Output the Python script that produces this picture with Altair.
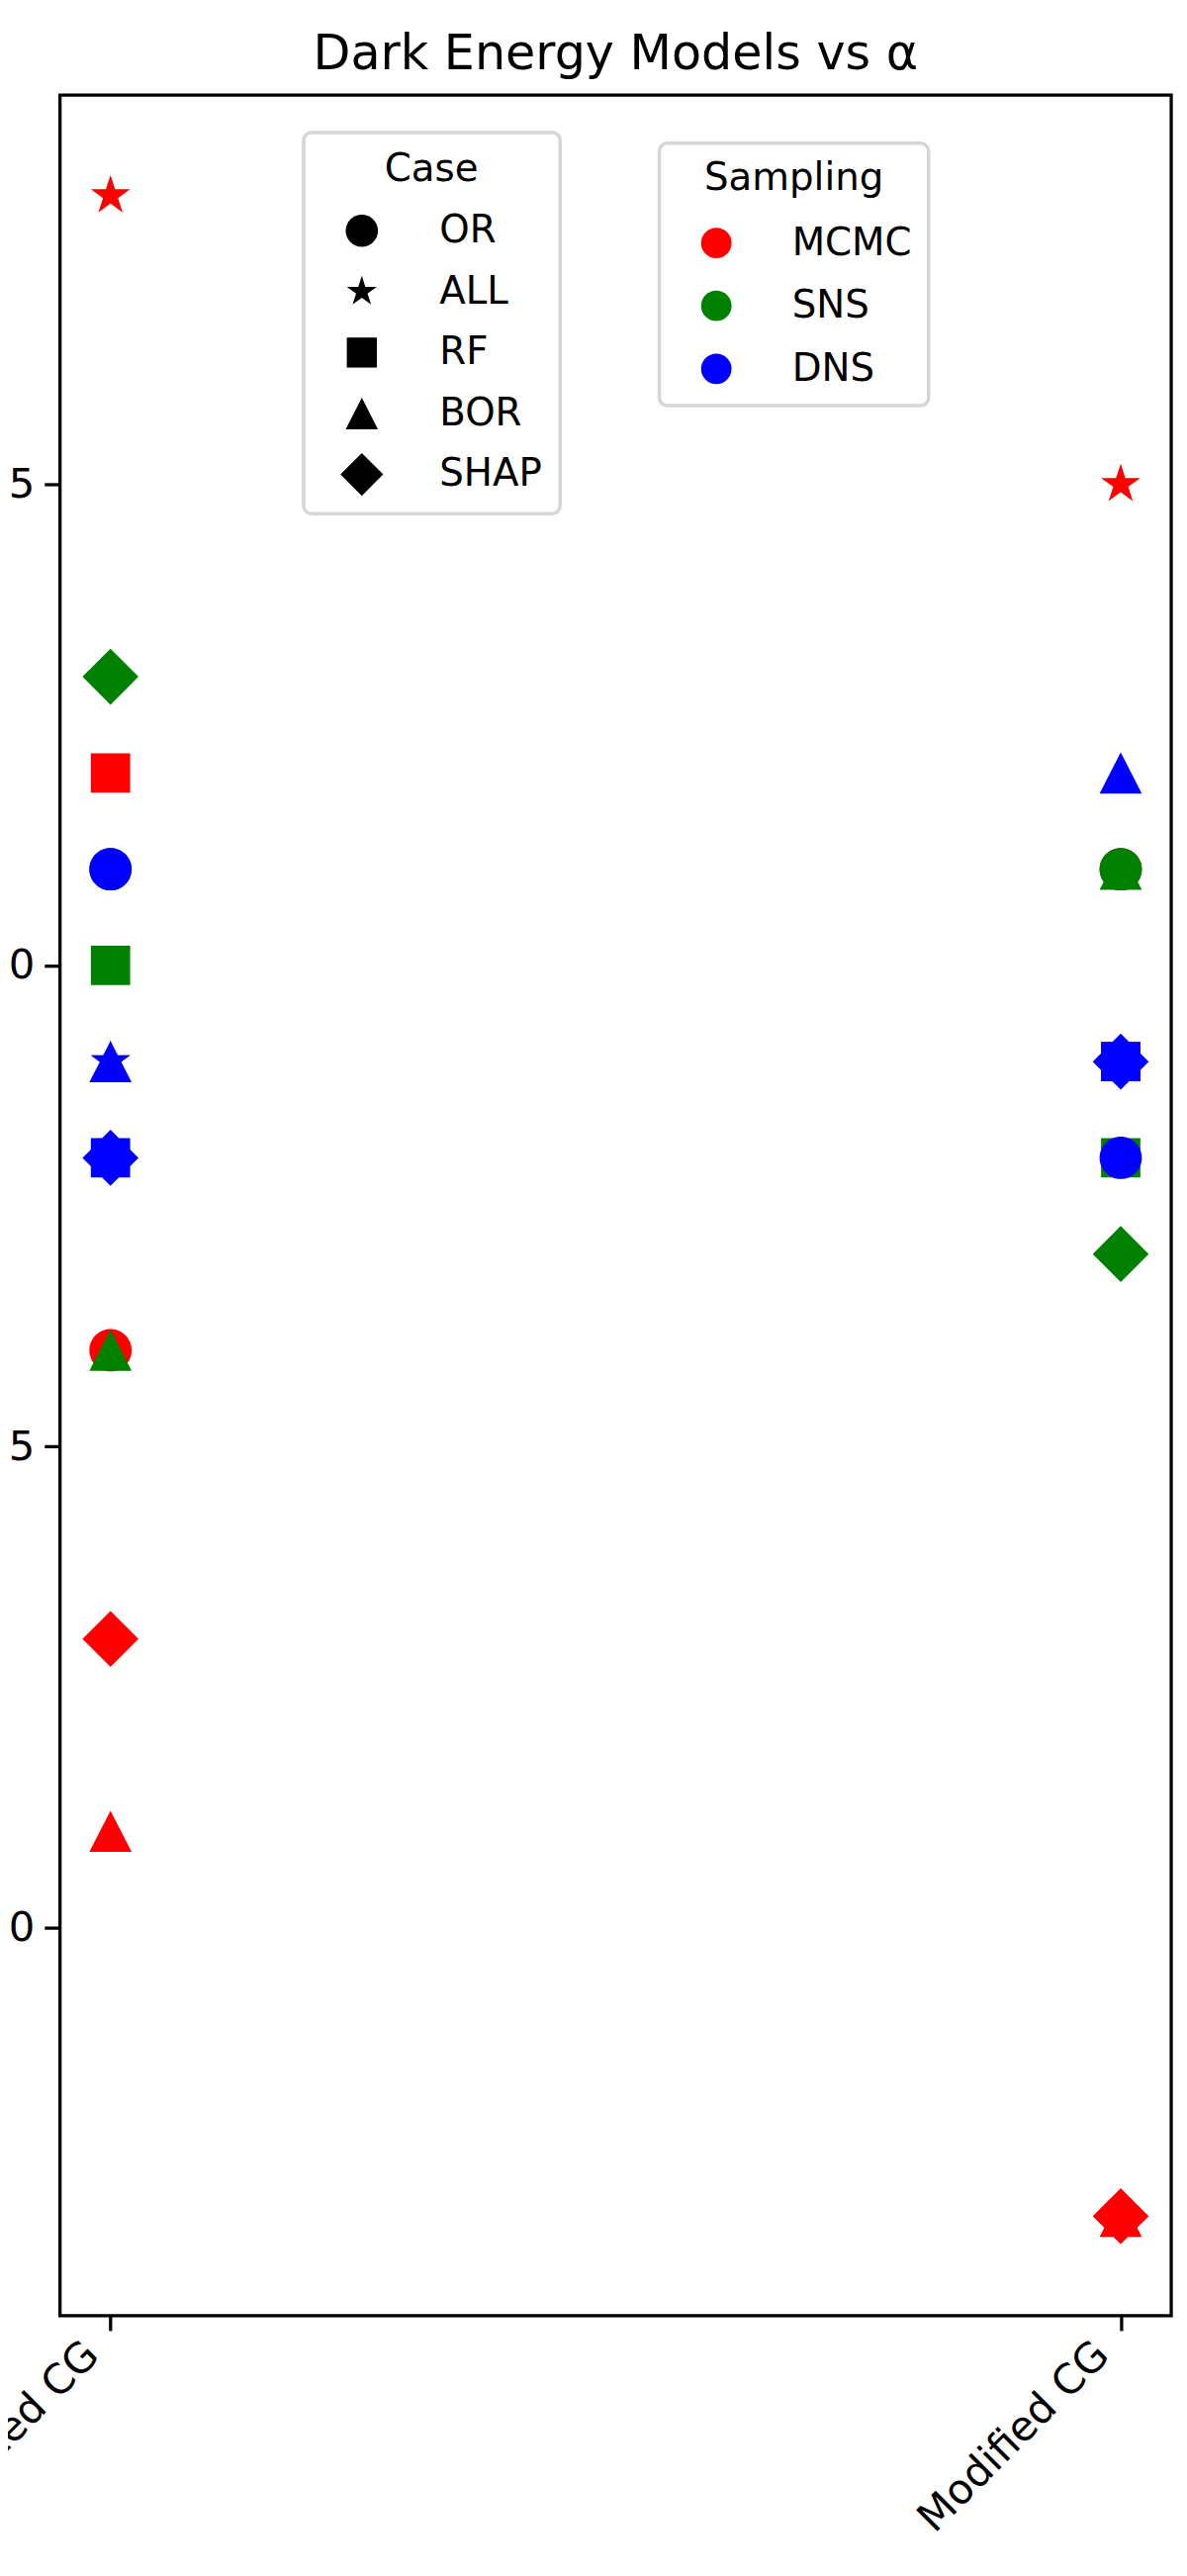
import altair as alt
import pandas as pd

# ---- data ----
models = ["Generalized CG", "Modified CG"]
samplings = ["MCMC", "SNS", "DNS"]
cases = ["OR", "ALL", "RF", "BOR", "SHAP"]

# alpha values, in the order of `cases`
gcg_mcmc = [0.6, 1.8, 1.2, 0.1, 0.3]
gcg_sns = [1.1, 0.9, 1.0, 0.6, 1.3]
gcg_dns = [1.1, 0.9, 0.8, 0.9, 0.8]
mcg_mcmc = [1.1, 1.5, 0.9, -0.3, -0.3]
mcg_sns = [1.1, 0.9, 0.8, 1.1, 0.7]
mcg_dns = [0.8, 0.9, 0.9, 1.2, 0.9]

sampling_colors = ["#ff0000", "#008000", "#0000ff"]
y_ticks = [0.0, 0.5, 1.0, 1.5]

series = {
    ("Generalized CG", "MCMC"): gcg_mcmc,
    ("Generalized CG", "SNS"): gcg_sns,
    ("Generalized CG", "DNS"): gcg_dns,
    ("Modified CG", "MCMC"): mcg_mcmc,
    ("Modified CG", "SNS"): mcg_sns,
    ("Modified CG", "DNS"): mcg_dns,
}

rows = []
for s in samplings:
    for m in models:
        for c, v in zip(cases, series[(m, s)]):
            rows.append({"Model": m, "Sampling": s, "Case": c, "Alpha": v})
df = pd.DataFrame(rows)

# ---- marker shapes (unit box -1..1), matplotlib-like o * s ^ D ----
shape_paths = [
    "M0.717,0A0.717,0.717,0,1,1,-0.717,0A0.717,0.717,0,1,1,0.717,0Z",
    "M0,-0.7L0.157,-0.216L0.666,-0.216L0.254,0.083L0.411,0.566L0,0.267"
    "L-0.411,0.566L-0.254,0.083L-0.666,-0.216L-0.157,-0.216Z",
    "M-0.667,-0.667L0.667,-0.667L0.667,0.667L-0.667,0.667Z",
    "M0,-0.7L0.717,0.7L-0.717,0.7Z",
    "M0,-0.95L0.95,0L0,0.95L-0.95,0Z",
]

FONT = "DejaVu Sans"

chart = (
    alt.Chart(df)
    .mark_point(filled=True, opacity=1, size=3600, strokeWidth=0)
    .encode(
        x=alt.X(
            "Model:N",
            sort=models,
            scale=alt.Scale(type="point", padding=0.05),
            axis=alt.Axis(
                title=None,
                labelAngle=-45,
                labelAlign="right",
                labelBaseline="top",
                labelOffset=-33.5,
                labelPadding=3.5,
                labelLimit=800,
                labelOverlap=False,
                tickSize=15,
                domain=False,
                grid=False,
            ),
        ),
        y=alt.Y(
            "Alpha:Q",
            scale=alt.Scale(domain=[-0.4035, 1.9045], nice=False, zero=False),
            axis=alt.Axis(
                values=y_ticks,
                format=".1f",
                title=None,
                tickSize=16,
                labelPadding=10,
                domain=False,
                grid=False,
            ),
        ),
        color=alt.Color(
            "Sampling:N",
            scale=alt.Scale(domain=samplings, range=sampling_colors),
            legend=alt.Legend(
                title="Sampling",
                orient="none",
                legendX=610,
                legendY=49,
                symbolType="circle",
                symbolSize=961,
                symbolOffset=21.5,
                labelOffset=57.5,
                rowPadding=24,
                titlePadding=26,
                padding=17,
            ),
        ),
        shape=alt.Shape(
            "Case:N",
            scale=alt.Scale(domain=cases, range=shape_paths),
            legend=alt.Legend(
                title="Case",
                orient="none",
                legendX=248,
                legendY=38,
                symbolSize=2100,
                symbolFillColor="black",
                symbolStrokeColor="black",
                symbolOffset=18.2,
                labelOffset=56,
                rowPadding=19,
                titlePadding=20,
                padding=18,
            ),
        ),
    )
    .properties(
        width=1131,
        height=2260,
        autosize=alt.AutoSizeParams(type="none"),
        padding={"left": 53, "top": 80, "right": 8, "bottom": 248},
        title=alt.TitleParams(
            text="Dark Energy Models vs α",
            fontSize=49.5,
            fontWeight="normal",
            font=FONT,
            anchor="middle",
            frame="group",
            offset=16,
            color="black",
        ),
    )
    .configure_view(stroke="black", strokeWidth=3.3)
    .configure_axis(
        labelFont=FONT,
        labelFontSize=42,
        labelColor="black",
        tickColor="black",
        tickWidth=3.3,
    )
    .configure_legend(
        labelFont=FONT,
        labelFontSize=39,
        labelColor="black",
        labelLimit=400,
        titleFont=FONT,
        titleFontSize=39,
        titleFontWeight="normal",
        titleColor="black",
        titleAnchor="middle",
        titleLimit=400,
        fillColor="white",
        strokeColor="#d6d6d6",
        strokeWidth=3.5,
        cornerRadius=8,
        symbolStrokeWidth=0,
    )
)

chart.save("out.html", embed_options={"renderer": "svg", "actions": False})
